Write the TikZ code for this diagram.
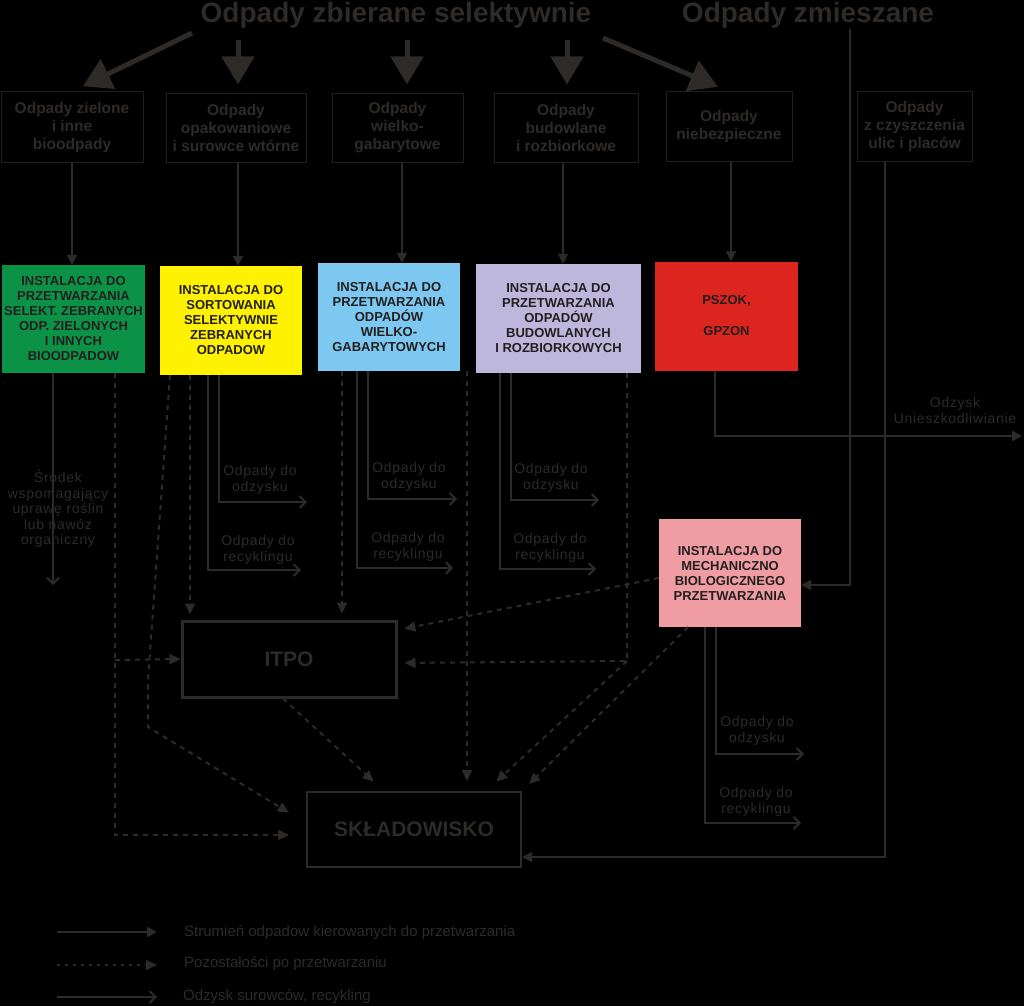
\documentclass[tikz,border=0pt]{standalone}
\usepackage{fontspec}
\setmainfont{Liberation Sans}
\newfontfamily\rozstrzel[LetterSpace=5]{Liberation Sans}
\usepackage{tikz}
\usetikzlibrary{arrows.meta}
\definecolor{ink}{HTML}{2E2A28}
\definecolor{frame}{HTML}{211F1E}
\definecolor{boxtext}{HTML}{231F20}
\definecolor{zielony}{HTML}{0C9247}
\definecolor{zolty}{HTML}{FFF200}
\definecolor{niebieski}{HTML}{7DC8F0}
\definecolor{lawenda}{HTML}{BDB8DB}
\definecolor{czerwony}{HTML}{DB251E}
\definecolor{rozowy}{HTML}{EF9DA3}

\begin{document}
\begin{tikzpicture}[x=1pt,y=-1pt,
  every node/.style={text=ink,align=center,inner sep=0pt},
  tytul/.style={anchor=base,font=\bfseries\fontsize{28}{32}\selectfont},
  srcbox/.style={draw=frame,line width=1pt,font=\bfseries\fontsize{15.5}{18}\selectfont},
  instbox/.style={font=\bfseries\fontsize{13}{15}\selectfont,text=boxtext},
  bigbox/.style={draw=ink,font=\bfseries\fontsize{21}{24}\selectfont},
  outtxt/.style={font=\rozstrzel\fontsize{14}{16}\selectfont},
  legtxt/.style={anchor=west,font=\fontsize{15}{17}\selectfont},
  bigarrow/.style={ink,line width=5pt,-{Triangle[length=28pt,width=32pt]}},
  feed/.style={ink,line width=2pt,-{Triangle[length=10pt,width=10pt]}},
  flow/.style={ink,line width=2pt,-{Straight Barb[length=6pt,width=12pt,line width=2pt]}},
  rest/.style={ink,line width=2pt,dash pattern=on 5pt off 5pt,-{Triangle[length=11pt,width=10pt]}}]
\fill[black] (0,0) rectangle (1024,1006);
\useasboundingbox (0,0) rectangle (1024,1006);

% naglowki
\node[tytul] (sel) at (396,23) {Odpady zbierane selektywnie};
\node[tytul] (zm) at (808,23) {Odpady zmieszane};
\coordinate (w1) at (192,33);
\coordinate (w2) at (238,40);
\coordinate (w3) at (407,40);
\coordinate (w4) at (567,40);
\coordinate (w5) at (603,38);

% rodzaje odpadow
\node[srcbox,minimum width=142pt,minimum height=70pt] (S1) at (72,127) {Odpady zielone\\i inne\\bioodpady};
\node[srcbox,minimum width=140pt,minimum height=68pt] (S2) at (236,128) {Odpady\\opakowaniowe\\i surowce wtórne};
\node[srcbox,minimum width=131pt,minimum height=68pt] (S3) at (397.5,128) {Odpady\\wielko-\\gabarytowe};
\node[srcbox,minimum width=144pt,minimum height=68pt] (S4) at (566,128) {Odpady\\budowlane\\i rozbiorkowe};
\node[srcbox,minimum width=126pt,minimum height=69pt] (S5) at (729,126.5) {Odpady\\niebezpieczne};
\node[srcbox,minimum width=115pt,minimum height=69pt] (S6) at (914.5,126.5) {Odpady\\z czyszczenia\\ulic i placów};

% instalacje
\node[instbox,fill=zielony,minimum width=143pt,minimum height=108pt] (G) at (73.5,319) {INSTALACJA DO\\PRZETWARZANIA\\SELEKT. ZEBRANYCH\\ODP. ZIELONYCH\\I INNYCH\\BIOODPADOW};
\node[instbox,fill=zolty,minimum width=142pt,minimum height=109pt] (Y) at (231,320.5) {INSTALACJA DO\\SORTOWANIA\\SELEKTYWNIE\\ZEBRANYCH\\ODPADOW};
\node[instbox,fill=niebieski,minimum width=142pt,minimum height=108pt] (B) at (389,317) {INSTALACJA DO\\PRZETWARZANIA\\ODPADÓW\\WIELKO-\\GABARYTOWYCH};
\node[instbox,fill=lawenda,minimum width=165pt,minimum height=109pt] (L) at (558.5,318.5) {INSTALACJA DO\\PRZETWARZANIA\\ODPADÓW\\BUDOWLANYCH\\I ROZBIORKOWYCH};
\node[instbox,fill=czerwony,minimum width=143pt,minimum height=109pt,font=\bfseries\fontsize{13}{31}\selectfont] (R) at (726.5,316) {PSZOK,\\GPZON};
\node[instbox,fill=rozowy,minimum width=142pt,minimum height=108pt] (P) at (730,573) {INSTALACJA DO\\MECHANICZNO\\BIOLOGICZNEGO\\PRZETWARZANIA};
\node[bigbox,line width=3pt,minimum width=214pt,minimum height=76pt] (ITPO) at (289,659) {ITPO};
\node[bigbox,line width=2pt,minimum width=214pt,minimum height=75pt] (SKL) at (414,829.5) {SKŁADOWISKO};

% strzalki od naglowka
\draw[bigarrow,shorten >=12pt] (w1) -- (S1.north);
\draw[bigarrow,shorten >=9pt] (w2) -- (S2.north -| w2);
\draw[bigarrow,shorten >=9pt] (w3) -- (S3.north -| w3);
\draw[bigarrow,shorten >=9pt] (w4) -- (S4.north -| w4);
\draw[bigarrow,shorten >=12pt] (w5) -- (S5.north);

% doplyw do instalacji
\draw[feed] (S1.south) -- (S1.south |- G.north);
\draw[feed] (S2.south -| 238,0) -- (Y.north -| 238,0);
\draw[feed] (S3.south -| 402,0) -- (B.north -| 402,0);
\draw[feed] (S4.south -| 563,0) -- (L.north -| 563,0);
\draw[feed] (S5.south -| 731,0) -- (R.north -| 731,0);

% instalacja zielona
\coordinate (kompost) at (53,585);
\draw[flow] (G.south -| 53,0) -- (kompost);
\node[outtxt,font=\rozstrzel\fontsize{14}{15.5}\selectfont] (srodek) at (58,509) {Środek\\wspomagający\\uprawę roślin\\lub nawóz\\organiczny};
\coordinate (g1) at (115,835);
\draw[rest,shorten >=17pt] (G.south -| 115,0) -- (g1) -- (SKL.west |- g1);
\draw[rest] (115,660) -- (ITPO.west);

% sortownia
\draw[rest,shorten >=20pt] (Y.south -| 170,0) -- (148,680) -- (148,727) -- (SKL.west |- 0,823);
\draw[rest,shorten >=5pt] (Y.south -| 190,0) -- (ITPO.north -| 190,0);
\coordinate (odzY) at (307,502);
\coordinate (recY) at (301,570);
\draw[flow] (Y.south -| 219,0) |- (odzY);
\draw[flow] (Y.south -| 208,0) |- (recY);
\node[outtxt] (todzY) at (260,480) {Odpady do\\odzysku};
\node[outtxt] (trecY) at (258,550) {Odpady do\\recyklingu};

% wielkogabarytowe
\draw[rest,shorten >=6pt] (B.south -| 342,0) -- (ITPO.north -| 342,0);
\coordinate (odzB) at (457,499);
\coordinate (recB) at (453,568);
\draw[flow] (B.south -| 368,0) |- (odzB);
\draw[flow] (B.south -| 357,0) |- (recB);
\node[outtxt] (todzB) at (409,477) {Odpady do\\odzysku};
\node[outtxt] (trecB) at (408,547) {Odpady do\\recyklingu};
\draw[rest,shorten >=10pt] (B.south -| 467,0) -- (SKL.north -| 467,0);

% budowlane
\coordinate (odzL) at (599,500);
\coordinate (recL) at (596,569);
\draw[flow] (L.south -| 511,0) |- (odzL);
\draw[flow] (L.south -| 500,0) |- (recL);
\node[outtxt] (todzL) at (551,478) {Odpady do\\odzysku};
\node[outtxt] (trecL) at (550,548) {Odpady do\\recyklingu};
\coordinate (l1) at (627,661);
\draw[rest,shorten >=7pt] (L.south -| 627,0) -- (l1) -- (ITPO.east |- 0,663);
\draw[rest,shorten >=14pt] (l1) -- (SKL.north -| 486,0);

% PSZOK
\coordinate (odzR) at (1022,436);
\draw[feed] (R.south -| 715,0) |- (odzR);
\node[outtxt] (todzR) at (955,410) {Odzysk\\Unieszkodliwianie};

% MBP
\draw[feed] (zm.south -| 850,0) |- (P.east |- 0,585);
\draw[rest,shorten >=7pt] (P.west |- 0,578) -- (ITPO.east |- 0,630);
\draw[rest,shorten >=10pt] (P.south -| 688,0) -- (SKL.north east);
\coordinate (odzP) at (804,754);
\coordinate (recP) at (801,823);
\draw[flow] (P.south -| 716,0) |- (odzP);
\draw[flow] (P.south -| 705,0) |- (recP);
\node[outtxt] (todzP) at (757,731) {Odpady do\\odzysku};
\node[outtxt] (trecP) at (756,802) {Odpady do\\recyklingu};

% ITPO i ulice
\draw[rest,shorten >=14pt] (ITPO.south -| 283,0) -- (SKL.north -| 384,0);
\draw[feed] (S6.south -| 885,0) |- (SKL.east |- 0,857);

% legenda
\coordinate (la) at (57,932);
\coordinate (lb) at (57,965);
\coordinate (lc) at (57,997);
\draw[feed] (la) -- ++(100,0);
\draw[rest,line width=1.5pt,dash pattern=on 3pt off 5pt] (lb) -- ++(100,0);
\draw[flow] (lc) -- ++(100,0);
\node[legtxt] (lega) at (184,933) {Strumień odpadow kierowanych do przetwarzania};
\node[legtxt] (legb) at (184,964) {Pozostałości po przetwarzaniu};
\node[legtxt] (legc) at (183,997) {Odzysk surowców, recykling};
\end{tikzpicture}
\end{document}
